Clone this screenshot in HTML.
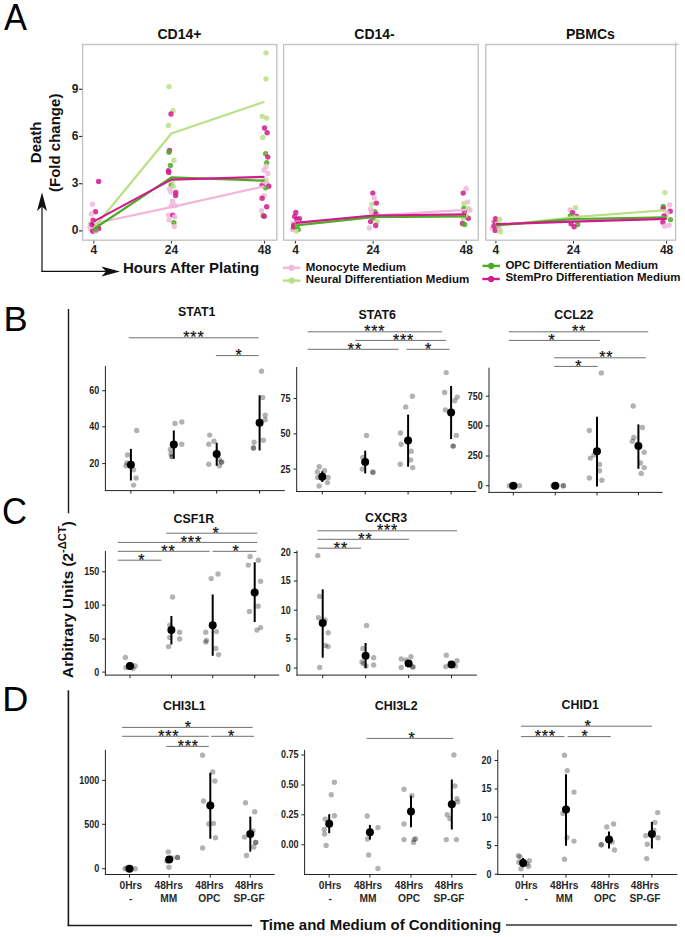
<!DOCTYPE html>
<html><head><meta charset="utf-8"><style>
html,body{margin:0;padding:0;background:#fff;overflow:hidden}
svg{display:block}
text{font-family:"Liberation Sans",sans-serif}
</style></head><body>
<svg width="685" height="937" viewBox="0 0 685 937">
<rect width="685" height="937" fill="#fff"/>
<text transform="translate(4.1,30.2) scale(0.93,1)" font-size="37" fill="#000">A</text>
<text transform="translate(3.5,330.9) scale(1.02,1)" font-size="35.5" fill="#000">B</text>
<text transform="translate(2.0,524.2) scale(0.96,1)" font-size="36" fill="#000">C</text>
<text transform="translate(2.2,710.7) scale(1.02,1)" font-size="35.5" fill="#000">D</text>
<rect x="82.6" y="44.5" width="194.2" height="195.7" fill="none" stroke="#c4c4c4" stroke-width="1.4"/>
<text x="179.4" y="38.6" font-size="14" font-weight="bold" text-anchor="middle" fill="#111" >CD14+</text>
<line x1="93.8" y1="240.9" x2="93.8" y2="243.5" stroke="#333" stroke-width="1" />
<text x="93.8" y="254.4" font-size="12" font-weight="bold" text-anchor="middle" fill="#222" >4</text>
<line x1="171.4" y1="240.9" x2="171.4" y2="243.5" stroke="#333" stroke-width="1" />
<text x="171.4" y="254.4" font-size="12" font-weight="bold" text-anchor="middle" fill="#222" >24</text>
<line x1="264.5" y1="240.9" x2="264.5" y2="243.5" stroke="#333" stroke-width="1" />
<text x="264.5" y="254.4" font-size="12" font-weight="bold" text-anchor="middle" fill="#222" >48</text>
<rect x="283.6" y="44.5" width="194.7" height="195.7" fill="none" stroke="#c4c4c4" stroke-width="1.4"/>
<text x="374.5" y="38.6" font-size="14" font-weight="bold" text-anchor="middle" fill="#111" >CD14-</text>
<line x1="295.5" y1="240.9" x2="295.5" y2="243.5" stroke="#333" stroke-width="1" />
<text x="295.5" y="254.4" font-size="12" font-weight="bold" text-anchor="middle" fill="#222" >4</text>
<line x1="373.1" y1="240.9" x2="373.1" y2="243.5" stroke="#333" stroke-width="1" />
<text x="373.1" y="254.4" font-size="12" font-weight="bold" text-anchor="middle" fill="#222" >24</text>
<line x1="466.2" y1="240.9" x2="466.2" y2="243.5" stroke="#333" stroke-width="1" />
<text x="466.2" y="254.4" font-size="12" font-weight="bold" text-anchor="middle" fill="#222" >48</text>
<rect x="485.8" y="44.5" width="189.8" height="195.7" fill="none" stroke="#c4c4c4" stroke-width="1.4"/>
<text x="590.4" y="38.6" font-size="14" font-weight="bold" text-anchor="middle" fill="#111" >PBMCs</text>
<line x1="495.9" y1="240.9" x2="495.9" y2="243.5" stroke="#333" stroke-width="1" />
<text x="495.9" y="254.4" font-size="12" font-weight="bold" text-anchor="middle" fill="#222" >4</text>
<line x1="573.5" y1="240.9" x2="573.5" y2="243.5" stroke="#333" stroke-width="1" />
<text x="573.5" y="254.4" font-size="12" font-weight="bold" text-anchor="middle" fill="#222" >24</text>
<line x1="666.6" y1="240.9" x2="666.6" y2="243.5" stroke="#333" stroke-width="1" />
<text x="666.6" y="254.4" font-size="12" font-weight="bold" text-anchor="middle" fill="#222" >48</text>
<line x1="675.6" y1="42.4" x2="675.6" y2="44.5" stroke="#c4c4c4" stroke-width="1.2" />
<line x1="675.6" y1="44.5" x2="679.2" y2="44.5" stroke="#c4c4c4" stroke-width="1.2" />
<line x1="79.1" y1="230.9" x2="82.3" y2="230.9" stroke="#333" stroke-width="1.2" />
<text x="78.4" y="234.3" font-size="12" font-weight="bold" text-anchor="end" fill="#222" >0</text>
<line x1="79.1" y1="183.7" x2="82.3" y2="183.7" stroke="#333" stroke-width="1.2" />
<text x="78.4" y="187.1" font-size="12" font-weight="bold" text-anchor="end" fill="#222" >3</text>
<line x1="79.1" y1="136.5" x2="82.3" y2="136.5" stroke="#333" stroke-width="1.2" />
<text x="78.4" y="139.9" font-size="12" font-weight="bold" text-anchor="end" fill="#222" >6</text>
<line x1="79.1" y1="89.3" x2="82.3" y2="89.3" stroke="#333" stroke-width="1.2" />
<text x="78.4" y="92.7" font-size="12" font-weight="bold" text-anchor="end" fill="#222" >9</text>
<circle cx="98.6" cy="181.4" r="2.7" fill="#d01c8b" fill-opacity="0.85"/>
<circle cx="92.4" cy="204.2" r="2.7" fill="#f1b6da" fill-opacity="0.85"/>
<circle cx="95.5" cy="211.7" r="2.7" fill="#d01c8b" fill-opacity="0.85"/>
<circle cx="91.3" cy="213.9" r="2.7" fill="#f1b6da" fill-opacity="0.85"/>
<circle cx="93.1" cy="220.1" r="2.7" fill="#d01c8b" fill-opacity="0.85"/>
<circle cx="90.6" cy="224.0" r="2.7" fill="#b8e186" fill-opacity="0.85"/>
<circle cx="92.0" cy="224.7" r="2.7" fill="#d01c8b" fill-opacity="0.85"/>
<circle cx="90.0" cy="226.7" r="2.7" fill="#f1b6da" fill-opacity="0.85"/>
<circle cx="97.9" cy="226.0" r="2.7" fill="#d01c8b" fill-opacity="0.85"/>
<circle cx="90.6" cy="229.2" r="2.7" fill="#f1b6da" fill-opacity="0.85"/>
<circle cx="98.6" cy="228.8" r="2.7" fill="#d01c8b" fill-opacity="0.85"/>
<circle cx="92.7" cy="231.3" r="2.7" fill="#d01c8b" fill-opacity="0.85"/>
<circle cx="96.0" cy="231.0" r="2.7" fill="#f1b6da" fill-opacity="0.85"/>
<circle cx="92.3" cy="224.6" r="2.7" fill="#d01c8b" fill-opacity="0.85"/>
<circle cx="95.5" cy="229.9" r="2.7" fill="#4dac26" fill-opacity="0.85"/>
<circle cx="169.0" cy="86.6" r="2.7" fill="#b8e186" fill-opacity="0.85"/>
<circle cx="173.0" cy="110.7" r="2.7" fill="#b8e186" fill-opacity="0.85"/>
<circle cx="171.0" cy="114.0" r="2.7" fill="#d01c8b" fill-opacity="0.85"/>
<circle cx="168.4" cy="125.4" r="2.7" fill="#b8e186" fill-opacity="0.85"/>
<circle cx="169.5" cy="150.5" r="2.7" fill="#d01c8b" fill-opacity="0.85"/>
<circle cx="169.0" cy="152.3" r="2.7" fill="#4dac26" fill-opacity="0.85"/>
<circle cx="173.9" cy="160.2" r="2.7" fill="#b8e186" fill-opacity="0.85"/>
<circle cx="170.4" cy="165.4" r="2.7" fill="#4dac26" fill-opacity="0.85"/>
<circle cx="168.4" cy="170.7" r="2.7" fill="#d01c8b" fill-opacity="0.85"/>
<circle cx="168.8" cy="172.4" r="2.7" fill="#d01c8b" fill-opacity="0.85"/>
<circle cx="171.2" cy="184.9" r="2.7" fill="#4dac26" fill-opacity="0.85"/>
<circle cx="173.2" cy="186.2" r="2.7" fill="#b8e186" fill-opacity="0.85"/>
<circle cx="171.0" cy="192.1" r="2.7" fill="#f1b6da" fill-opacity="0.85"/>
<circle cx="175.8" cy="192.5" r="2.7" fill="#d01c8b" fill-opacity="0.85"/>
<circle cx="175.6" cy="195.6" r="2.7" fill="#d01c8b" fill-opacity="0.85"/>
<circle cx="172.5" cy="201.3" r="2.7" fill="#f1b6da" fill-opacity="0.85"/>
<circle cx="171.2" cy="205.7" r="2.7" fill="#f1b6da" fill-opacity="0.85"/>
<circle cx="175.2" cy="205.7" r="2.7" fill="#f1b6da" fill-opacity="0.85"/>
<circle cx="168.6" cy="215.1" r="2.7" fill="#f1b6da" fill-opacity="0.85"/>
<circle cx="172.8" cy="215.1" r="2.7" fill="#d01c8b" fill-opacity="0.85"/>
<circle cx="174.7" cy="216.8" r="2.7" fill="#f1b6da" fill-opacity="0.85"/>
<circle cx="169.0" cy="219.9" r="2.7" fill="#f1b6da" fill-opacity="0.85"/>
<circle cx="173.9" cy="222.8" r="2.7" fill="#4dac26" fill-opacity="0.85"/>
<circle cx="174.3" cy="226.5" r="2.7" fill="#f1b6da" fill-opacity="0.85"/>
<circle cx="169.5" cy="189.0" r="2.7" fill="#f1b6da" fill-opacity="0.85"/>
<circle cx="172.0" cy="181.0" r="2.7" fill="#b8e186" fill-opacity="0.85"/>
<circle cx="266.0" cy="52.9" r="2.7" fill="#b8e186" fill-opacity="0.85"/>
<circle cx="266.0" cy="79.0" r="2.7" fill="#b8e186" fill-opacity="0.85"/>
<circle cx="262.3" cy="116.2" r="2.7" fill="#b8e186" fill-opacity="0.85"/>
<circle cx="266.7" cy="118.1" r="2.7" fill="#b8e186" fill-opacity="0.85"/>
<circle cx="264.5" cy="128.0" r="2.7" fill="#d01c8b" fill-opacity="0.85"/>
<circle cx="267.1" cy="132.8" r="2.7" fill="#d01c8b" fill-opacity="0.85"/>
<circle cx="262.7" cy="137.4" r="2.7" fill="#b8e186" fill-opacity="0.85"/>
<circle cx="265.6" cy="153.8" r="2.7" fill="#4dac26" fill-opacity="0.85"/>
<circle cx="267.8" cy="157.1" r="2.7" fill="#d01c8b" fill-opacity="0.85"/>
<circle cx="266.7" cy="162.6" r="2.7" fill="#4dac26" fill-opacity="0.85"/>
<circle cx="266.0" cy="166.5" r="2.7" fill="#f1b6da" fill-opacity="0.85"/>
<circle cx="267.8" cy="173.5" r="2.7" fill="#f1b6da" fill-opacity="0.85"/>
<circle cx="266.0" cy="180.1" r="2.7" fill="#b8e186" fill-opacity="0.85"/>
<circle cx="267.1" cy="183.4" r="2.7" fill="#f1b6da" fill-opacity="0.85"/>
<circle cx="262.1" cy="185.1" r="2.7" fill="#d01c8b" fill-opacity="0.85"/>
<circle cx="268.8" cy="186.2" r="2.7" fill="#d01c8b" fill-opacity="0.85"/>
<circle cx="265.6" cy="187.7" r="2.7" fill="#4dac26" fill-opacity="0.85"/>
<circle cx="264.2" cy="195.8" r="2.7" fill="#f1b6da" fill-opacity="0.85"/>
<circle cx="262.1" cy="198.2" r="2.7" fill="#d01c8b" fill-opacity="0.85"/>
<circle cx="266.7" cy="206.8" r="2.7" fill="#d01c8b" fill-opacity="0.85"/>
<circle cx="261.6" cy="210.7" r="2.7" fill="#f1b6da" fill-opacity="0.85"/>
<circle cx="263.2" cy="215.7" r="2.7" fill="#4dac26" fill-opacity="0.85"/>
<circle cx="264.2" cy="216.2" r="2.7" fill="#d01c8b" fill-opacity="0.85"/>
<circle cx="264.0" cy="170.0" r="2.7" fill="#f1b6da" fill-opacity="0.85"/>
<circle cx="263.0" cy="181.0" r="2.7" fill="#f1b6da" fill-opacity="0.85"/>
<circle cx="295.8" cy="212.4" r="2.7" fill="#d01c8b" fill-opacity="0.85"/>
<circle cx="294.7" cy="216.5" r="2.7" fill="#d01c8b" fill-opacity="0.85"/>
<circle cx="299.4" cy="218.7" r="2.7" fill="#d01c8b" fill-opacity="0.85"/>
<circle cx="296.9" cy="219.4" r="2.7" fill="#d01c8b" fill-opacity="0.85"/>
<circle cx="292.9" cy="223.1" r="2.7" fill="#f1b6da" fill-opacity="0.85"/>
<circle cx="294.0" cy="225.3" r="2.7" fill="#d01c8b" fill-opacity="0.85"/>
<circle cx="292.5" cy="229.6" r="2.7" fill="#f1b6da" fill-opacity="0.85"/>
<circle cx="298.3" cy="229.6" r="2.7" fill="#4dac26" fill-opacity="0.85"/>
<circle cx="296.1" cy="231.1" r="2.7" fill="#b8e186" fill-opacity="0.85"/>
<circle cx="293.5" cy="227.0" r="2.7" fill="#d01c8b" fill-opacity="0.85"/>
<circle cx="298.0" cy="223.0" r="2.7" fill="#f1b6da" fill-opacity="0.85"/>
<circle cx="297.0" cy="226.0" r="2.7" fill="#4dac26" fill-opacity="0.85"/>
<circle cx="372.8" cy="193.1" r="2.7" fill="#d01c8b" fill-opacity="0.85"/>
<circle cx="374.2" cy="197.8" r="2.7" fill="#f1b6da" fill-opacity="0.85"/>
<circle cx="371.8" cy="204.1" r="2.7" fill="#b8e186" fill-opacity="0.85"/>
<circle cx="376.4" cy="203.1" r="2.7" fill="#d01c8b" fill-opacity="0.85"/>
<circle cx="370.6" cy="209.2" r="2.7" fill="#f1b6da" fill-opacity="0.85"/>
<circle cx="374.7" cy="211.8" r="2.7" fill="#4dac26" fill-opacity="0.85"/>
<circle cx="371.5" cy="212.0" r="2.7" fill="#f1b6da" fill-opacity="0.85"/>
<circle cx="370.6" cy="221.6" r="2.7" fill="#d01c8b" fill-opacity="0.85"/>
<circle cx="377.2" cy="221.6" r="2.7" fill="#b8e186" fill-opacity="0.85"/>
<circle cx="375.7" cy="225.5" r="2.7" fill="#d01c8b" fill-opacity="0.85"/>
<circle cx="369.4" cy="227.9" r="2.7" fill="#f1b6da" fill-opacity="0.85"/>
<circle cx="373.0" cy="218.0" r="2.7" fill="#4dac26" fill-opacity="0.85"/>
<circle cx="376.0" cy="214.0" r="2.7" fill="#d01c8b" fill-opacity="0.85"/>
<circle cx="466.1" cy="188.5" r="2.7" fill="#f1b6da" fill-opacity="0.85"/>
<circle cx="463.2" cy="193.1" r="2.7" fill="#d01c8b" fill-opacity="0.85"/>
<circle cx="467.6" cy="201.9" r="2.7" fill="#f1b6da" fill-opacity="0.85"/>
<circle cx="463.9" cy="203.4" r="2.7" fill="#b8e186" fill-opacity="0.85"/>
<circle cx="463.9" cy="208.5" r="2.7" fill="#4dac26" fill-opacity="0.85"/>
<circle cx="468.0" cy="208.5" r="2.7" fill="#b8e186" fill-opacity="0.85"/>
<circle cx="464.4" cy="212.1" r="2.7" fill="#d01c8b" fill-opacity="0.85"/>
<circle cx="470.0" cy="210.0" r="2.7" fill="#f1b6da" fill-opacity="0.85"/>
<circle cx="463.2" cy="218.2" r="2.7" fill="#b8e186" fill-opacity="0.85"/>
<circle cx="468.3" cy="218.2" r="2.7" fill="#d01c8b" fill-opacity="0.85"/>
<circle cx="462.5" cy="223.5" r="2.7" fill="#d01c8b" fill-opacity="0.85"/>
<circle cx="464.7" cy="224.5" r="2.7" fill="#4dac26" fill-opacity="0.85"/>
<circle cx="466.0" cy="215.0" r="2.7" fill="#b8e186" fill-opacity="0.85"/>
<circle cx="495.5" cy="218.7" r="2.7" fill="#d01c8b" fill-opacity="0.85"/>
<circle cx="493.5" cy="221.6" r="2.7" fill="#f1b6da" fill-opacity="0.85"/>
<circle cx="495.2" cy="221.6" r="2.7" fill="#d01c8b" fill-opacity="0.85"/>
<circle cx="499.6" cy="219.4" r="2.7" fill="#b8e186" fill-opacity="0.85"/>
<circle cx="498.1" cy="225.3" r="2.7" fill="#4dac26" fill-opacity="0.85"/>
<circle cx="492.3" cy="228.2" r="2.7" fill="#f1b6da" fill-opacity="0.85"/>
<circle cx="495.2" cy="230.4" r="2.7" fill="#d01c8b" fill-opacity="0.85"/>
<circle cx="499.6" cy="229.6" r="2.7" fill="#f1b6da" fill-opacity="0.85"/>
<circle cx="500.3" cy="231.8" r="2.7" fill="#b8e186" fill-opacity="0.85"/>
<circle cx="497.0" cy="224.0" r="2.7" fill="#b8e186" fill-opacity="0.85"/>
<circle cx="494.0" cy="226.0" r="2.7" fill="#d01c8b" fill-opacity="0.85"/>
<circle cx="575.5" cy="207.7" r="2.7" fill="#b8e186" fill-opacity="0.85"/>
<circle cx="570.1" cy="209.9" r="2.7" fill="#f1b6da" fill-opacity="0.85"/>
<circle cx="572.6" cy="212.8" r="2.7" fill="#d01c8b" fill-opacity="0.85"/>
<circle cx="570.4" cy="215.8" r="2.7" fill="#4dac26" fill-opacity="0.85"/>
<circle cx="576.7" cy="216.5" r="2.7" fill="#d01c8b" fill-opacity="0.85"/>
<circle cx="575.0" cy="218.0" r="2.7" fill="#f1b6da" fill-opacity="0.85"/>
<circle cx="571.1" cy="223.8" r="2.7" fill="#d01c8b" fill-opacity="0.85"/>
<circle cx="577.7" cy="224.5" r="2.7" fill="#4dac26" fill-opacity="0.85"/>
<circle cx="574.1" cy="226.7" r="2.7" fill="#d01c8b" fill-opacity="0.85"/>
<circle cx="573.0" cy="220.0" r="2.7" fill="#b8e186" fill-opacity="0.85"/>
<circle cx="665.0" cy="192.6" r="2.7" fill="#b8e186" fill-opacity="0.85"/>
<circle cx="663.2" cy="206.5" r="2.7" fill="#4dac26" fill-opacity="0.85"/>
<circle cx="663.2" cy="208.7" r="2.7" fill="#d01c8b" fill-opacity="0.85"/>
<circle cx="669.8" cy="205.0" r="2.7" fill="#f1b6da" fill-opacity="0.85"/>
<circle cx="670.2" cy="211.3" r="2.7" fill="#d01c8b" fill-opacity="0.85"/>
<circle cx="667.0" cy="213.0" r="2.7" fill="#f1b6da" fill-opacity="0.85"/>
<circle cx="670.5" cy="219.6" r="2.7" fill="#4dac26" fill-opacity="0.85"/>
<circle cx="662.9" cy="222.3" r="2.7" fill="#d01c8b" fill-opacity="0.85"/>
<circle cx="664.7" cy="226.2" r="2.7" fill="#f1b6da" fill-opacity="0.85"/>
<circle cx="669.1" cy="225.2" r="2.7" fill="#f1b6da" fill-opacity="0.85"/>
<circle cx="666.0" cy="217.0" r="2.7" fill="#b8e186" fill-opacity="0.85"/>
<circle cx="664.0" cy="216.0" r="2.7" fill="#d01c8b" fill-opacity="0.85"/>
<polyline points="93.8,223.5 171.4,207.2 264.5,186.2" fill="none" stroke="#f1b6da" stroke-width="2.2" stroke-linejoin="round"/>
<polyline points="93.8,228 171.4,133.5 264.5,101.7" fill="none" stroke="#b8e186" stroke-width="2.2" stroke-linejoin="round"/>
<polyline points="93.8,229 171.4,177.4 264.5,180.7" fill="none" stroke="#4dac26" stroke-width="2.2" stroke-linejoin="round"/>
<polyline points="93.8,221.4 171.4,179.6 264.5,176.8" fill="none" stroke="#d01c8b" stroke-width="2.2" stroke-linejoin="round"/>
<polyline points="295.5,223.5 373.1,215.5 466.2,209.9" fill="none" stroke="#f1b6da" stroke-width="2.2" stroke-linejoin="round"/>
<polyline points="295.5,225.5 373.1,216.5 466.2,215.8" fill="none" stroke="#b8e186" stroke-width="2.2" stroke-linejoin="round"/>
<polyline points="295.5,225.5 373.1,217.2 466.2,216.5" fill="none" stroke="#4dac26" stroke-width="2.2" stroke-linejoin="round"/>
<polyline points="295.5,222.8 373.1,215.5 466.2,214.3" fill="none" stroke="#d01c8b" stroke-width="2.2" stroke-linejoin="round"/>
<polyline points="495.9,224.8 573.5,219.5 666.6,217.5" fill="none" stroke="#f1b6da" stroke-width="2.2" stroke-linejoin="round"/>
<polyline points="495.9,226 573.5,217.2 666.6,210.1" fill="none" stroke="#b8e186" stroke-width="2.2" stroke-linejoin="round"/>
<polyline points="495.9,225.3 573.5,219 666.6,217.4" fill="none" stroke="#4dac26" stroke-width="2.2" stroke-linejoin="round"/>
<polyline points="495.9,224.2 573.5,221.6 666.6,218.9" fill="none" stroke="#d01c8b" stroke-width="2.2" stroke-linejoin="round"/>
<line x1="42.0" y1="272.0" x2="42.0" y2="205.0" stroke="#111" stroke-width="1.2" />
<path d="M42,192.3 L37.0,211 L42,206.5 L47,211 Z" fill="#111" stroke="none" stroke-width="1" />
<line x1="41.4" y1="271.4" x2="106.0" y2="271.4" stroke="#111" stroke-width="1.2" />
<path d="M120,271.4 L101.5,266.4 L106,271.4 L101.5,276.4 Z" fill="#111" stroke="none" stroke-width="1" />
<text x="123.0" y="273.3" font-size="15" font-weight="bold" text-anchor="start" fill="#111" >Hours After Plating</text>
<text transform="translate(40.8,142.3) rotate(-90)" font-size="15" font-weight="bold" text-anchor="middle" fill="#111">Death</text>
<text transform="translate(60.0,142.8) rotate(-90)" font-size="15" font-weight="bold" text-anchor="middle" fill="#111">(Fold change)</text>
<line x1="282.9" y1="267.8" x2="300.4" y2="267.8" stroke="#f1b6da" stroke-width="2.4" />
<circle cx="291.6" cy="267.8" r="3.1" fill="#f1b6da"/>
<text x="305.7" y="270.9" font-size="11.5" font-weight="bold" text-anchor="start" fill="#111" >Monocyte Medium</text>
<line x1="282.9" y1="280.6" x2="300.4" y2="280.6" stroke="#b8e186" stroke-width="2.4" />
<circle cx="291.6" cy="280.6" r="3.1" fill="#b8e186"/>
<text x="305.7" y="283.4" font-size="11.5" font-weight="bold" text-anchor="start" fill="#111" >Neural Differentiation Medium</text>
<line x1="482.5" y1="265.9" x2="500.0" y2="265.9" stroke="#4dac26" stroke-width="2.4" />
<circle cx="491.2" cy="265.9" r="3.1" fill="#4dac26"/>
<text x="505.4" y="268.5" font-size="11.5" font-weight="bold" text-anchor="start" fill="#111" >OPC Differentiation Medium</text>
<line x1="482.3" y1="279.0" x2="499.8" y2="279.0" stroke="#d01c8b" stroke-width="2.4" />
<circle cx="491.1" cy="279.0" r="3.1" fill="#d01c8b"/>
<text x="505.4" y="281.4" font-size="11.5" font-weight="bold" text-anchor="start" fill="#111" >StemPro Differentiation Medium</text>
<line x1="105.4" y1="366.1" x2="105.4" y2="491.1" stroke="#222" stroke-width="1" />
<line x1="104.9" y1="490.6" x2="284.8" y2="490.6" stroke="#222" stroke-width="1" />
<line x1="102.2" y1="390.7" x2="105.4" y2="390.7" stroke="#222" stroke-width="1" />
<text transform="translate(99.2,394.1) scale(0.9,1)" font-size="10" font-weight="bold" text-anchor="end" fill="#1e1e1e">60</text>
<line x1="102.2" y1="426.8" x2="105.4" y2="426.8" stroke="#222" stroke-width="1" />
<text transform="translate(99.2,430.2) scale(0.9,1)" font-size="10" font-weight="bold" text-anchor="end" fill="#1e1e1e">40</text>
<line x1="102.2" y1="463.6" x2="105.4" y2="463.6" stroke="#222" stroke-width="1" />
<text transform="translate(99.2,467.0) scale(0.9,1)" font-size="10" font-weight="bold" text-anchor="end" fill="#1e1e1e">20</text>
<line x1="130.9" y1="490.6" x2="130.9" y2="493.6" stroke="#222" stroke-width="1" />
<line x1="173.8" y1="490.6" x2="173.8" y2="493.6" stroke="#222" stroke-width="1" />
<line x1="216.7" y1="490.6" x2="216.7" y2="493.6" stroke="#222" stroke-width="1" />
<line x1="259.6" y1="490.6" x2="259.6" y2="493.6" stroke="#222" stroke-width="1" />
<circle cx="136.7" cy="430.5" r="2.7" fill="#000" fill-opacity="0.3"/>
<circle cx="127.5" cy="455.0" r="2.7" fill="#000" fill-opacity="0.3"/>
<circle cx="126.0" cy="465.8" r="2.7" fill="#000" fill-opacity="0.3"/>
<circle cx="127.0" cy="463.0" r="2.7" fill="#000" fill-opacity="0.3"/>
<circle cx="133.6" cy="469.7" r="2.7" fill="#000" fill-opacity="0.3"/>
<circle cx="136.1" cy="478.0" r="2.7" fill="#000" fill-opacity="0.3"/>
<circle cx="133.6" cy="485.1" r="2.7" fill="#000" fill-opacity="0.3"/>
<circle cx="175.0" cy="423.5" r="2.7" fill="#000" fill-opacity="0.3"/>
<circle cx="181.8" cy="421.9" r="2.7" fill="#000" fill-opacity="0.3"/>
<circle cx="170.4" cy="449.5" r="2.7" fill="#000" fill-opacity="0.3"/>
<circle cx="172.0" cy="456.6" r="2.7" fill="#000" fill-opacity="0.3"/>
<circle cx="172.0" cy="456.6" r="2.7" fill="#000" fill-opacity="0.3"/>
<circle cx="181.8" cy="444.3" r="2.7" fill="#000" fill-opacity="0.3"/>
<circle cx="171.0" cy="454.0" r="2.7" fill="#000" fill-opacity="0.3"/>
<circle cx="209.7" cy="435.1" r="2.7" fill="#000" fill-opacity="0.3"/>
<circle cx="214.0" cy="441.2" r="2.7" fill="#000" fill-opacity="0.3"/>
<circle cx="208.8" cy="444.3" r="2.7" fill="#000" fill-opacity="0.3"/>
<circle cx="208.8" cy="464.2" r="2.7" fill="#000" fill-opacity="0.3"/>
<circle cx="219.5" cy="459.6" r="2.7" fill="#000" fill-opacity="0.3"/>
<circle cx="221.6" cy="462.1" r="2.7" fill="#000" fill-opacity="0.3"/>
<circle cx="221.6" cy="462.1" r="2.7" fill="#000" fill-opacity="0.3"/>
<circle cx="219.5" cy="465.8" r="2.7" fill="#000" fill-opacity="0.3"/>
<circle cx="261.5" cy="371.3" r="2.7" fill="#000" fill-opacity="0.3"/>
<circle cx="262.7" cy="397.4" r="2.7" fill="#000" fill-opacity="0.3"/>
<circle cx="265.2" cy="415.2" r="2.7" fill="#000" fill-opacity="0.3"/>
<circle cx="265.2" cy="419.8" r="2.7" fill="#000" fill-opacity="0.3"/>
<circle cx="254.1" cy="442.2" r="2.7" fill="#000" fill-opacity="0.3"/>
<circle cx="253.5" cy="448.0" r="2.7" fill="#000" fill-opacity="0.3"/>
<circle cx="253.5" cy="448.0" r="2.7" fill="#000" fill-opacity="0.3"/>
<circle cx="263.3" cy="440.3" r="2.7" fill="#000" fill-opacity="0.3"/>
<line x1="130.9" y1="448.9" x2="130.9" y2="480.5" stroke="#000" stroke-width="2.0" />
<circle cx="130.9" cy="464.8" r="4.0" fill="#000"/>
<line x1="173.8" y1="430.5" x2="173.8" y2="458.7" stroke="#000" stroke-width="2.0" />
<circle cx="173.8" cy="444.6" r="4.0" fill="#000"/>
<line x1="216.7" y1="442.8" x2="216.7" y2="465.8" stroke="#000" stroke-width="2.0" />
<circle cx="216.7" cy="454.1" r="4.0" fill="#000"/>
<line x1="259.6" y1="395.3" x2="259.6" y2="450.4" stroke="#000" stroke-width="2.0" />
<circle cx="259.6" cy="422.8" r="4.0" fill="#000"/>
<text x="196.8" y="316.1" font-size="12.4" font-weight="bold" text-anchor="middle" fill="#111" >STAT1</text>
<line x1="128.7" y1="337.8" x2="258.7" y2="337.8" stroke="#6e6e6e" stroke-width="1" />
<text x="193.9" y="343.3" font-size="16" text-anchor="middle" fill="#111" letter-spacing="0.8" stroke="#111" stroke-width="0.25">***</text>
<line x1="215.9" y1="355.6" x2="258.7" y2="355.6" stroke="#6e6e6e" stroke-width="1" />
<text x="239.0" y="361.1" font-size="16" text-anchor="middle" fill="#111" letter-spacing="0.8" stroke="#111" stroke-width="0.25">*</text>
<line x1="296.7" y1="367.0" x2="296.7" y2="492.0" stroke="#222" stroke-width="1" />
<line x1="296.2" y1="491.5" x2="476.2" y2="491.5" stroke="#222" stroke-width="1" />
<line x1="293.5" y1="398.6" x2="296.7" y2="398.6" stroke="#222" stroke-width="1" />
<text transform="translate(290.5,402.0) scale(0.9,1)" font-size="10" font-weight="bold" text-anchor="end" fill="#1e1e1e">75</text>
<line x1="293.5" y1="433.9" x2="296.7" y2="433.9" stroke="#222" stroke-width="1" />
<text transform="translate(290.5,437.3) scale(0.9,1)" font-size="10" font-weight="bold" text-anchor="end" fill="#1e1e1e">50</text>
<line x1="293.5" y1="469.1" x2="296.7" y2="469.1" stroke="#222" stroke-width="1" />
<text transform="translate(290.5,472.5) scale(0.9,1)" font-size="10" font-weight="bold" text-anchor="end" fill="#1e1e1e">25</text>
<line x1="322.3" y1="491.5" x2="322.3" y2="494.5" stroke="#222" stroke-width="1" />
<line x1="365.2" y1="491.5" x2="365.2" y2="494.5" stroke="#222" stroke-width="1" />
<line x1="408.1" y1="491.5" x2="408.1" y2="494.5" stroke="#222" stroke-width="1" />
<line x1="451.1" y1="491.5" x2="451.1" y2="494.5" stroke="#222" stroke-width="1" />
<circle cx="319.2" cy="466.7" r="2.7" fill="#000" fill-opacity="0.3"/>
<circle cx="324.5" cy="470.7" r="2.7" fill="#000" fill-opacity="0.3"/>
<circle cx="317.4" cy="471.9" r="2.7" fill="#000" fill-opacity="0.3"/>
<circle cx="328.1" cy="477.4" r="2.7" fill="#000" fill-opacity="0.3"/>
<circle cx="327.5" cy="482.6" r="2.7" fill="#000" fill-opacity="0.3"/>
<circle cx="319.2" cy="486.0" r="2.7" fill="#000" fill-opacity="0.3"/>
<circle cx="317.7" cy="477.4" r="2.7" fill="#000" fill-opacity="0.3"/>
<circle cx="366.5" cy="435.4" r="2.7" fill="#000" fill-opacity="0.3"/>
<circle cx="362.8" cy="457.5" r="2.7" fill="#000" fill-opacity="0.3"/>
<circle cx="362.2" cy="469.1" r="2.7" fill="#000" fill-opacity="0.3"/>
<circle cx="372.9" cy="472.2" r="2.7" fill="#000" fill-opacity="0.3"/>
<circle cx="372.9" cy="472.2" r="2.7" fill="#000" fill-opacity="0.3"/>
<circle cx="364.0" cy="462.0" r="2.7" fill="#000" fill-opacity="0.3"/>
<circle cx="412.4" cy="396.2" r="2.7" fill="#000" fill-opacity="0.3"/>
<circle cx="405.7" cy="406.9" r="2.7" fill="#000" fill-opacity="0.3"/>
<circle cx="400.5" cy="433.0" r="2.7" fill="#000" fill-opacity="0.3"/>
<circle cx="401.1" cy="444.3" r="2.7" fill="#000" fill-opacity="0.3"/>
<circle cx="411.2" cy="451.3" r="2.7" fill="#000" fill-opacity="0.3"/>
<circle cx="410.6" cy="459.9" r="2.7" fill="#000" fill-opacity="0.3"/>
<circle cx="400.2" cy="464.2" r="2.7" fill="#000" fill-opacity="0.3"/>
<circle cx="412.7" cy="467.6" r="2.7" fill="#000" fill-opacity="0.3"/>
<circle cx="446.2" cy="372.6" r="2.7" fill="#000" fill-opacity="0.3"/>
<circle cx="444.6" cy="392.5" r="2.7" fill="#000" fill-opacity="0.3"/>
<circle cx="457.2" cy="397.1" r="2.7" fill="#000" fill-opacity="0.3"/>
<circle cx="454.7" cy="400.8" r="2.7" fill="#000" fill-opacity="0.3"/>
<circle cx="445.5" cy="410.0" r="2.7" fill="#000" fill-opacity="0.3"/>
<circle cx="456.3" cy="435.4" r="2.7" fill="#000" fill-opacity="0.3"/>
<circle cx="453.2" cy="446.1" r="2.7" fill="#000" fill-opacity="0.3"/>
<circle cx="453.2" cy="446.1" r="2.7" fill="#000" fill-opacity="0.3"/>
<line x1="322.3" y1="471.3" x2="322.3" y2="482.0" stroke="#000" stroke-width="2.0" />
<circle cx="322.3" cy="476.8" r="4.0" fill="#000"/>
<line x1="365.2" y1="450.7" x2="365.2" y2="473.4" stroke="#000" stroke-width="2.0" />
<circle cx="365.2" cy="462.1" r="4.0" fill="#000"/>
<line x1="408.1" y1="414.6" x2="408.1" y2="466.7" stroke="#000" stroke-width="2.0" />
<circle cx="408.1" cy="440.6" r="4.0" fill="#000"/>
<line x1="451.1" y1="386.0" x2="451.1" y2="439.1" stroke="#000" stroke-width="2.0" />
<circle cx="451.1" cy="412.4" r="4.0" fill="#000"/>
<text x="377.3" y="319.4" font-size="12.4" font-weight="bold" text-anchor="middle" fill="#111" >STAT6</text>
<line x1="307.6" y1="331.8" x2="441.9" y2="331.8" stroke="#6e6e6e" stroke-width="1" />
<text x="374.8" y="337.3" font-size="16" text-anchor="middle" fill="#111" letter-spacing="0.8" stroke="#111" stroke-width="0.25">***</text>
<line x1="355.1" y1="340.4" x2="446.2" y2="340.4" stroke="#6e6e6e" stroke-width="1" />
<text x="403.6" y="345.9" font-size="16" text-anchor="middle" fill="#111" letter-spacing="0.8" stroke="#111" stroke-width="0.25">***</text>
<line x1="307.6" y1="349.3" x2="398.6" y2="349.3" stroke="#6e6e6e" stroke-width="1" />
<text x="354.9" y="354.8" font-size="16" text-anchor="middle" fill="#111" letter-spacing="0.8" stroke="#111" stroke-width="0.25">**</text>
<line x1="406.6" y1="349.3" x2="449.5" y2="349.3" stroke="#6e6e6e" stroke-width="1" />
<text x="428.5" y="354.8" font-size="16" text-anchor="middle" fill="#111" letter-spacing="0.8" stroke="#111" stroke-width="0.25">*</text>
<line x1="489.0" y1="367.7" x2="489.0" y2="492.9" stroke="#222" stroke-width="1" />
<line x1="488.5" y1="492.4" x2="662.6" y2="492.4" stroke="#222" stroke-width="1" />
<line x1="485.8" y1="396.2" x2="489.0" y2="396.2" stroke="#222" stroke-width="1" />
<text transform="translate(482.8,399.6) scale(0.9,1)" font-size="10" font-weight="bold" text-anchor="end" fill="#1e1e1e">750</text>
<line x1="485.8" y1="425.9" x2="489.0" y2="425.9" stroke="#222" stroke-width="1" />
<text transform="translate(482.8,429.3) scale(0.9,1)" font-size="10" font-weight="bold" text-anchor="end" fill="#1e1e1e">500</text>
<line x1="485.8" y1="456.0" x2="489.0" y2="456.0" stroke="#222" stroke-width="1" />
<text transform="translate(482.8,459.4) scale(0.9,1)" font-size="10" font-weight="bold" text-anchor="end" fill="#1e1e1e">250</text>
<line x1="485.8" y1="485.7" x2="489.0" y2="485.7" stroke="#222" stroke-width="1" />
<text transform="translate(482.8,489.1) scale(0.9,1)" font-size="10" font-weight="bold" text-anchor="end" fill="#1e1e1e">0</text>
<line x1="513.3" y1="492.4" x2="513.3" y2="495.4" stroke="#222" stroke-width="1" />
<line x1="555.3" y1="492.4" x2="555.3" y2="495.4" stroke="#222" stroke-width="1" />
<line x1="597.0" y1="492.4" x2="597.0" y2="495.4" stroke="#222" stroke-width="1" />
<line x1="638.4" y1="492.4" x2="638.4" y2="495.4" stroke="#222" stroke-width="1" />
<circle cx="509.3" cy="485.7" r="2.7" fill="#000" fill-opacity="0.3"/>
<circle cx="519.5" cy="485.7" r="2.7" fill="#000" fill-opacity="0.3"/>
<circle cx="512.0" cy="485.7" r="2.7" fill="#000" fill-opacity="0.3"/>
<circle cx="515.0" cy="485.7" r="2.7" fill="#000" fill-opacity="0.3"/>
<circle cx="563.3" cy="485.7" r="2.7" fill="#000" fill-opacity="0.3"/>
<circle cx="563.3" cy="485.7" r="2.7" fill="#000" fill-opacity="0.3"/>
<circle cx="553.0" cy="485.7" r="2.7" fill="#000" fill-opacity="0.3"/>
<circle cx="557.0" cy="485.7" r="2.7" fill="#000" fill-opacity="0.3"/>
<circle cx="601.3" cy="372.9" r="2.7" fill="#000" fill-opacity="0.3"/>
<circle cx="589.3" cy="430.5" r="2.7" fill="#000" fill-opacity="0.3"/>
<circle cx="590.3" cy="458.1" r="2.7" fill="#000" fill-opacity="0.3"/>
<circle cx="594.0" cy="455.0" r="2.7" fill="#000" fill-opacity="0.3"/>
<circle cx="599.5" cy="464.5" r="2.7" fill="#000" fill-opacity="0.3"/>
<circle cx="599.5" cy="470.7" r="2.7" fill="#000" fill-opacity="0.3"/>
<circle cx="589.3" cy="478.0" r="2.7" fill="#000" fill-opacity="0.3"/>
<circle cx="601.9" cy="480.2" r="2.7" fill="#000" fill-opacity="0.3"/>
<circle cx="633.2" cy="406.0" r="2.7" fill="#000" fill-opacity="0.3"/>
<circle cx="642.4" cy="427.4" r="2.7" fill="#000" fill-opacity="0.3"/>
<circle cx="633.8" cy="437.5" r="2.7" fill="#000" fill-opacity="0.3"/>
<circle cx="632.3" cy="441.2" r="2.7" fill="#000" fill-opacity="0.3"/>
<circle cx="644.2" cy="452.3" r="2.7" fill="#000" fill-opacity="0.3"/>
<circle cx="640.5" cy="463.0" r="2.7" fill="#000" fill-opacity="0.3"/>
<circle cx="644.2" cy="467.6" r="2.7" fill="#000" fill-opacity="0.3"/>
<circle cx="641.2" cy="473.4" r="2.7" fill="#000" fill-opacity="0.3"/>
<circle cx="513.3" cy="485.7" r="4.0" fill="#000"/>
<circle cx="555.3" cy="485.7" r="4.0" fill="#000"/>
<line x1="597.0" y1="416.7" x2="597.0" y2="486.6" stroke="#000" stroke-width="2.0" />
<circle cx="597.0" cy="451.3" r="4.0" fill="#000"/>
<line x1="638.4" y1="424.4" x2="638.4" y2="468.8" stroke="#000" stroke-width="2.0" />
<circle cx="638.4" cy="446.1" r="4.0" fill="#000"/>
<text x="573.9" y="319.4" font-size="12.4" font-weight="bold" text-anchor="middle" fill="#111" >CCL22</text>
<line x1="508.7" y1="331.8" x2="648.2" y2="331.8" stroke="#6e6e6e" stroke-width="1" />
<text x="579.0" y="337.3" font-size="16" text-anchor="middle" fill="#111" letter-spacing="0.8" stroke="#111" stroke-width="0.25">**</text>
<line x1="508.7" y1="340.4" x2="600.1" y2="340.4" stroke="#6e6e6e" stroke-width="1" />
<text x="552.0" y="345.9" font-size="16" text-anchor="middle" fill="#111" letter-spacing="0.8" stroke="#111" stroke-width="0.25">*</text>
<line x1="554.1" y1="357.8" x2="645.8" y2="357.8" stroke="#6e6e6e" stroke-width="1" />
<text x="606.3" y="363.3" font-size="16" text-anchor="middle" fill="#111" letter-spacing="0.8" stroke="#111" stroke-width="0.25">**</text>
<line x1="554.1" y1="366.4" x2="597.6" y2="366.4" stroke="#6e6e6e" stroke-width="1" />
<text x="578.7" y="371.9" font-size="16" text-anchor="middle" fill="#111" letter-spacing="0.8" stroke="#111" stroke-width="0.25">*</text>
<line x1="105.4" y1="551.0" x2="105.4" y2="675.6" stroke="#222" stroke-width="1" />
<line x1="104.9" y1="675.1" x2="279.2" y2="675.1" stroke="#222" stroke-width="1" />
<line x1="102.2" y1="571.8" x2="105.4" y2="571.8" stroke="#222" stroke-width="1" />
<text transform="translate(99.2,575.2) scale(0.9,1)" font-size="10" font-weight="bold" text-anchor="end" fill="#1e1e1e">150</text>
<line x1="102.2" y1="605.2" x2="105.4" y2="605.2" stroke="#222" stroke-width="1" />
<text transform="translate(99.2,608.6) scale(0.9,1)" font-size="10" font-weight="bold" text-anchor="end" fill="#1e1e1e">100</text>
<line x1="102.2" y1="639.0" x2="105.4" y2="639.0" stroke="#222" stroke-width="1" />
<text transform="translate(99.2,642.4) scale(0.9,1)" font-size="10" font-weight="bold" text-anchor="end" fill="#1e1e1e">50</text>
<line x1="102.2" y1="672.1" x2="105.4" y2="672.1" stroke="#222" stroke-width="1" />
<text transform="translate(99.2,675.5) scale(0.9,1)" font-size="10" font-weight="bold" text-anchor="end" fill="#1e1e1e">0</text>
<line x1="130.0" y1="675.1" x2="130.0" y2="678.1" stroke="#222" stroke-width="1" />
<line x1="171.4" y1="675.1" x2="171.4" y2="678.1" stroke="#222" stroke-width="1" />
<line x1="212.7" y1="675.1" x2="212.7" y2="678.1" stroke="#222" stroke-width="1" />
<line x1="254.7" y1="675.1" x2="254.7" y2="678.1" stroke="#222" stroke-width="1" />
<circle cx="125.4" cy="657.4" r="2.7" fill="#000" fill-opacity="0.3"/>
<circle cx="126.0" cy="667.5" r="2.7" fill="#000" fill-opacity="0.3"/>
<circle cx="135.2" cy="666.0" r="2.7" fill="#000" fill-opacity="0.3"/>
<circle cx="133.0" cy="668.5" r="2.7" fill="#000" fill-opacity="0.3"/>
<circle cx="129.0" cy="667.0" r="2.7" fill="#000" fill-opacity="0.3"/>
<circle cx="172.6" cy="597.0" r="2.7" fill="#000" fill-opacity="0.3"/>
<circle cx="169.8" cy="625.2" r="2.7" fill="#000" fill-opacity="0.3"/>
<circle cx="179.6" cy="632.2" r="2.7" fill="#000" fill-opacity="0.3"/>
<circle cx="169.8" cy="637.4" r="2.7" fill="#000" fill-opacity="0.3"/>
<circle cx="179.6" cy="639.0" r="2.7" fill="#000" fill-opacity="0.3"/>
<circle cx="168.6" cy="646.6" r="2.7" fill="#000" fill-opacity="0.3"/>
<circle cx="211.2" cy="578.6" r="2.7" fill="#000" fill-opacity="0.3"/>
<circle cx="218.0" cy="574.0" r="2.7" fill="#000" fill-opacity="0.3"/>
<circle cx="205.7" cy="632.2" r="2.7" fill="#000" fill-opacity="0.3"/>
<circle cx="216.4" cy="631.6" r="2.7" fill="#000" fill-opacity="0.3"/>
<circle cx="205.7" cy="642.0" r="2.7" fill="#000" fill-opacity="0.3"/>
<circle cx="206.5" cy="640.5" r="2.7" fill="#000" fill-opacity="0.3"/>
<circle cx="215.8" cy="648.5" r="2.7" fill="#000" fill-opacity="0.3"/>
<circle cx="218.6" cy="654.6" r="2.7" fill="#000" fill-opacity="0.3"/>
<circle cx="250.1" cy="556.5" r="2.7" fill="#000" fill-opacity="0.3"/>
<circle cx="258.4" cy="560.2" r="2.7" fill="#000" fill-opacity="0.3"/>
<circle cx="248.3" cy="565.1" r="2.7" fill="#000" fill-opacity="0.3"/>
<circle cx="260.6" cy="581.3" r="2.7" fill="#000" fill-opacity="0.3"/>
<circle cx="258.1" cy="606.2" r="2.7" fill="#000" fill-opacity="0.3"/>
<circle cx="249.5" cy="611.4" r="2.7" fill="#000" fill-opacity="0.3"/>
<circle cx="260.6" cy="627.6" r="2.7" fill="#000" fill-opacity="0.3"/>
<circle cx="256.9" cy="630.1" r="2.7" fill="#000" fill-opacity="0.3"/>
<line x1="130.0" y1="663.0" x2="130.0" y2="669.0" stroke="#000" stroke-width="2.0" />
<circle cx="130.0" cy="666.0" r="4.0" fill="#000"/>
<line x1="171.4" y1="616.0" x2="171.4" y2="644.5" stroke="#000" stroke-width="2.0" />
<circle cx="171.4" cy="630.1" r="4.0" fill="#000"/>
<line x1="212.7" y1="594.5" x2="212.7" y2="655.8" stroke="#000" stroke-width="2.0" />
<circle cx="212.7" cy="625.2" r="4.0" fill="#000"/>
<line x1="254.7" y1="562.3" x2="254.7" y2="622.1" stroke="#000" stroke-width="2.0" />
<circle cx="254.7" cy="592.4" r="4.0" fill="#000"/>
<text x="193.8" y="523.4" font-size="12.4" font-weight="bold" text-anchor="middle" fill="#111" >CSF1R</text>
<line x1="166.4" y1="533.2" x2="257.2" y2="533.2" stroke="#6e6e6e" stroke-width="1" />
<text x="215.9" y="538.7" font-size="16" text-anchor="middle" fill="#111" letter-spacing="0.8" stroke="#111" stroke-width="0.25">*</text>
<line x1="117.7" y1="542.4" x2="257.2" y2="542.4" stroke="#6e6e6e" stroke-width="1" />
<text x="191.4" y="547.9" font-size="16" text-anchor="middle" fill="#111" letter-spacing="0.8" stroke="#111" stroke-width="0.25">***</text>
<line x1="117.7" y1="551.3" x2="209.7" y2="551.3" stroke="#6e6e6e" stroke-width="1" />
<text x="168.4" y="556.8" font-size="16" text-anchor="middle" fill="#111" letter-spacing="0.8" stroke="#111" stroke-width="0.25">**</text>
<line x1="212.7" y1="551.3" x2="256.3" y2="551.3" stroke="#6e6e6e" stroke-width="1" />
<text x="236.1" y="556.8" font-size="16" text-anchor="middle" fill="#111" letter-spacing="0.8" stroke="#111" stroke-width="0.25">*</text>
<line x1="117.7" y1="560.2" x2="161.5" y2="560.2" stroke="#6e6e6e" stroke-width="1" />
<text x="141.7" y="565.7" font-size="16" text-anchor="middle" fill="#111" letter-spacing="0.8" stroke="#111" stroke-width="0.25">*</text>
<line x1="297.0" y1="550.4" x2="297.0" y2="675.6" stroke="#222" stroke-width="1" />
<line x1="296.5" y1="675.1" x2="476.9" y2="675.1" stroke="#222" stroke-width="1" />
<line x1="293.8" y1="552.5" x2="297.0" y2="552.5" stroke="#222" stroke-width="1" />
<text transform="translate(290.8,555.9) scale(0.9,1)" font-size="10" font-weight="bold" text-anchor="end" fill="#1e1e1e">20</text>
<line x1="293.8" y1="581.0" x2="297.0" y2="581.0" stroke="#222" stroke-width="1" />
<text transform="translate(290.8,584.4) scale(0.9,1)" font-size="10" font-weight="bold" text-anchor="end" fill="#1e1e1e">15</text>
<line x1="293.8" y1="610.2" x2="297.0" y2="610.2" stroke="#222" stroke-width="1" />
<text transform="translate(290.8,613.6) scale(0.9,1)" font-size="10" font-weight="bold" text-anchor="end" fill="#1e1e1e">10</text>
<line x1="293.8" y1="639.0" x2="297.0" y2="639.0" stroke="#222" stroke-width="1" />
<text transform="translate(290.8,642.4) scale(0.9,1)" font-size="10" font-weight="bold" text-anchor="end" fill="#1e1e1e">5</text>
<line x1="293.8" y1="668.1" x2="297.0" y2="668.1" stroke="#222" stroke-width="1" />
<text transform="translate(290.8,671.5) scale(0.9,1)" font-size="10" font-weight="bold" text-anchor="end" fill="#1e1e1e">0</text>
<line x1="322.7" y1="675.1" x2="322.7" y2="678.1" stroke="#222" stroke-width="1" />
<line x1="365.6" y1="675.1" x2="365.6" y2="678.1" stroke="#222" stroke-width="1" />
<line x1="408.6" y1="675.1" x2="408.6" y2="678.1" stroke="#222" stroke-width="1" />
<line x1="451.5" y1="675.1" x2="451.5" y2="678.1" stroke="#222" stroke-width="1" />
<circle cx="317.8" cy="555.6" r="2.7" fill="#000" fill-opacity="0.3"/>
<circle cx="319.7" cy="596.4" r="2.7" fill="#000" fill-opacity="0.3"/>
<circle cx="318.4" cy="617.8" r="2.7" fill="#000" fill-opacity="0.3"/>
<circle cx="325.0" cy="620.0" r="2.7" fill="#000" fill-opacity="0.3"/>
<circle cx="328.2" cy="632.8" r="2.7" fill="#000" fill-opacity="0.3"/>
<circle cx="325.2" cy="645.4" r="2.7" fill="#000" fill-opacity="0.3"/>
<circle cx="328.2" cy="646.6" r="2.7" fill="#000" fill-opacity="0.3"/>
<circle cx="319.7" cy="667.5" r="2.7" fill="#000" fill-opacity="0.3"/>
<circle cx="366.6" cy="625.5" r="2.7" fill="#000" fill-opacity="0.3"/>
<circle cx="362.9" cy="648.5" r="2.7" fill="#000" fill-opacity="0.3"/>
<circle cx="373.6" cy="657.7" r="2.7" fill="#000" fill-opacity="0.3"/>
<circle cx="362.0" cy="662.0" r="2.7" fill="#000" fill-opacity="0.3"/>
<circle cx="363.5" cy="663.5" r="2.7" fill="#000" fill-opacity="0.3"/>
<circle cx="373.6" cy="665.0" r="2.7" fill="#000" fill-opacity="0.3"/>
<circle cx="366.0" cy="666.0" r="2.7" fill="#000" fill-opacity="0.3"/>
<circle cx="401.2" cy="658.9" r="2.7" fill="#000" fill-opacity="0.3"/>
<circle cx="411.0" cy="656.7" r="2.7" fill="#000" fill-opacity="0.3"/>
<circle cx="406.0" cy="660.0" r="2.7" fill="#000" fill-opacity="0.3"/>
<circle cx="401.2" cy="667.5" r="2.7" fill="#000" fill-opacity="0.3"/>
<circle cx="412.9" cy="666.9" r="2.7" fill="#000" fill-opacity="0.3"/>
<circle cx="412.9" cy="666.9" r="2.7" fill="#000" fill-opacity="0.3"/>
<circle cx="446.3" cy="655.2" r="2.7" fill="#000" fill-opacity="0.3"/>
<circle cx="457.0" cy="660.7" r="2.7" fill="#000" fill-opacity="0.3"/>
<circle cx="445.7" cy="666.6" r="2.7" fill="#000" fill-opacity="0.3"/>
<circle cx="455.5" cy="666.0" r="2.7" fill="#000" fill-opacity="0.3"/>
<circle cx="453.0" cy="665.0" r="2.7" fill="#000" fill-opacity="0.3"/>
<line x1="322.7" y1="589.3" x2="322.7" y2="657.7" stroke="#000" stroke-width="2.0" />
<circle cx="322.7" cy="623.0" r="4.0" fill="#000"/>
<line x1="365.6" y1="643.0" x2="365.6" y2="668.1" stroke="#000" stroke-width="2.0" />
<circle cx="365.6" cy="655.8" r="4.0" fill="#000"/>
<circle cx="408.6" cy="663.5" r="4.0" fill="#000"/>
<circle cx="451.5" cy="664.4" r="4.0" fill="#000"/>
<text x="386.1" y="521.8" font-size="12.4" font-weight="bold" text-anchor="middle" fill="#111" >CXCR3</text>
<line x1="317.5" y1="530.8" x2="457.0" y2="530.8" stroke="#6e6e6e" stroke-width="1" />
<text x="387.5" y="536.3" font-size="16" text-anchor="middle" fill="#111" letter-spacing="0.8" stroke="#111" stroke-width="0.25">***</text>
<line x1="317.5" y1="539.3" x2="408.9" y2="539.3" stroke="#6e6e6e" stroke-width="1" />
<text x="365.4" y="544.8" font-size="16" text-anchor="middle" fill="#111" letter-spacing="0.8" stroke="#111" stroke-width="0.25">**</text>
<line x1="317.5" y1="548.2" x2="361.0" y2="548.2" stroke="#6e6e6e" stroke-width="1" />
<text x="340.9" y="553.7" font-size="16" text-anchor="middle" fill="#111" letter-spacing="0.8" stroke="#111" stroke-width="0.25">**</text>
<line x1="105.4" y1="749.8" x2="105.4" y2="875.0" stroke="#222" stroke-width="1" />
<line x1="104.9" y1="874.5" x2="274.7" y2="874.5" stroke="#222" stroke-width="1" />
<line x1="102.2" y1="780.4" x2="105.4" y2="780.4" stroke="#222" stroke-width="1" />
<text transform="translate(99.2,783.8) scale(0.9,1)" font-size="10" font-weight="bold" text-anchor="end" fill="#1e1e1e">1000</text>
<line x1="102.2" y1="824.3" x2="105.4" y2="824.3" stroke="#222" stroke-width="1" />
<text transform="translate(99.2,827.7) scale(0.9,1)" font-size="10" font-weight="bold" text-anchor="end" fill="#1e1e1e">500</text>
<line x1="102.2" y1="868.7" x2="105.4" y2="868.7" stroke="#222" stroke-width="1" />
<text transform="translate(99.2,872.1) scale(0.9,1)" font-size="10" font-weight="bold" text-anchor="end" fill="#1e1e1e">0</text>
<line x1="129.5" y1="874.5" x2="129.5" y2="877.5" stroke="#222" stroke-width="1" />
<line x1="169.2" y1="874.5" x2="169.2" y2="877.5" stroke="#222" stroke-width="1" />
<line x1="210.3" y1="874.5" x2="210.3" y2="877.5" stroke="#222" stroke-width="1" />
<line x1="250.3" y1="874.5" x2="250.3" y2="877.5" stroke="#222" stroke-width="1" />
<circle cx="125.0" cy="868.7" r="2.7" fill="#000" fill-opacity="0.3"/>
<circle cx="135.2" cy="868.7" r="2.7" fill="#000" fill-opacity="0.3"/>
<circle cx="127.0" cy="868.0" r="2.7" fill="#000" fill-opacity="0.3"/>
<circle cx="131.0" cy="869.0" r="2.7" fill="#000" fill-opacity="0.3"/>
<circle cx="168.3" cy="851.9" r="2.7" fill="#000" fill-opacity="0.3"/>
<circle cx="166.8" cy="861.1" r="2.7" fill="#000" fill-opacity="0.3"/>
<circle cx="168.9" cy="867.2" r="2.7" fill="#000" fill-opacity="0.3"/>
<circle cx="177.5" cy="857.4" r="2.7" fill="#000" fill-opacity="0.3"/>
<circle cx="177.5" cy="857.4" r="2.7" fill="#000" fill-opacity="0.3"/>
<circle cx="172.0" cy="858.0" r="2.7" fill="#000" fill-opacity="0.3"/>
<circle cx="202.6" cy="755.3" r="2.7" fill="#000" fill-opacity="0.3"/>
<circle cx="212.7" cy="771.9" r="2.7" fill="#000" fill-opacity="0.3"/>
<circle cx="214.9" cy="781.0" r="2.7" fill="#000" fill-opacity="0.3"/>
<circle cx="203.5" cy="801.0" r="2.7" fill="#000" fill-opacity="0.3"/>
<circle cx="208.8" cy="824.0" r="2.7" fill="#000" fill-opacity="0.3"/>
<circle cx="213.4" cy="823.4" r="2.7" fill="#000" fill-opacity="0.3"/>
<circle cx="215.5" cy="837.8" r="2.7" fill="#000" fill-opacity="0.3"/>
<circle cx="202.6" cy="847.9" r="2.7" fill="#000" fill-opacity="0.3"/>
<circle cx="245.5" cy="802.8" r="2.7" fill="#000" fill-opacity="0.3"/>
<circle cx="254.7" cy="811.7" r="2.7" fill="#000" fill-opacity="0.3"/>
<circle cx="244.6" cy="837.1" r="2.7" fill="#000" fill-opacity="0.3"/>
<circle cx="253.0" cy="831.0" r="2.7" fill="#000" fill-opacity="0.3"/>
<circle cx="255.7" cy="842.4" r="2.7" fill="#000" fill-opacity="0.3"/>
<circle cx="255.7" cy="842.4" r="2.7" fill="#000" fill-opacity="0.3"/>
<circle cx="253.8" cy="847.0" r="2.7" fill="#000" fill-opacity="0.3"/>
<circle cx="246.5" cy="855.5" r="2.7" fill="#000" fill-opacity="0.3"/>
<circle cx="129.5" cy="868.7" r="4.0" fill="#000"/>
<circle cx="169.2" cy="859.5" r="4.0" fill="#000"/>
<line x1="210.3" y1="772.8" x2="210.3" y2="838.7" stroke="#000" stroke-width="2.0" />
<circle cx="210.3" cy="805.6" r="4.0" fill="#000"/>
<line x1="250.3" y1="816.6" x2="250.3" y2="851.6" stroke="#000" stroke-width="2.0" />
<circle cx="250.3" cy="834.1" r="4.0" fill="#000"/>
<text x="184.3" y="710.0" font-size="12.4" font-weight="bold" text-anchor="middle" fill="#111" >CHI3L1</text>
<line x1="122.0" y1="727.4" x2="252.6" y2="727.4" stroke="#6e6e6e" stroke-width="1" />
<text x="188.3" y="732.9" font-size="16" text-anchor="middle" fill="#111" letter-spacing="0.8" stroke="#111" stroke-width="0.25">*</text>
<line x1="122.0" y1="736.3" x2="208.8" y2="736.3" stroke="#6e6e6e" stroke-width="1" />
<text x="168.7" y="741.8" font-size="16" text-anchor="middle" fill="#111" letter-spacing="0.8" stroke="#111" stroke-width="0.25">***</text>
<line x1="211.2" y1="736.3" x2="254.1" y2="736.3" stroke="#6e6e6e" stroke-width="1" />
<text x="231.5" y="741.8" font-size="16" text-anchor="middle" fill="#111" letter-spacing="0.8" stroke="#111" stroke-width="0.25">*</text>
<line x1="166.4" y1="746.4" x2="208.8" y2="746.4" stroke="#6e6e6e" stroke-width="1" />
<text x="188.3" y="751.9" font-size="16" text-anchor="middle" fill="#111" letter-spacing="0.8" stroke="#111" stroke-width="0.25">***</text>
<text x="130.8" y="889.2" font-size="10.2" font-weight="bold" text-anchor="middle" fill="#2a2a2a" >0Hrs</text>
<text x="130.8" y="901.9" font-size="10.2" font-weight="bold" text-anchor="middle" fill="#2a2a2a" >-</text>
<text x="168.7" y="889.2" font-size="10.2" font-weight="bold" text-anchor="middle" fill="#2a2a2a" >48Hrs</text>
<text x="168.7" y="901.9" font-size="10.2" font-weight="bold" text-anchor="middle" fill="#2a2a2a" >MM</text>
<text x="209.4" y="889.2" font-size="10.2" font-weight="bold" text-anchor="middle" fill="#2a2a2a" >48Hrs</text>
<text x="209.4" y="901.9" font-size="10.2" font-weight="bold" text-anchor="middle" fill="#2a2a2a" >OPC</text>
<text x="249.1" y="889.2" font-size="10.2" font-weight="bold" text-anchor="middle" fill="#2a2a2a" >48Hrs</text>
<text x="249.1" y="901.9" font-size="10.2" font-weight="bold" text-anchor="middle" fill="#2a2a2a" >SP-GF</text>
<line x1="304.6" y1="749.8" x2="304.6" y2="875.0" stroke="#222" stroke-width="1" />
<line x1="304.1" y1="874.5" x2="476.6" y2="874.5" stroke="#222" stroke-width="1" />
<line x1="301.4" y1="755.0" x2="304.6" y2="755.0" stroke="#222" stroke-width="1" />
<text transform="translate(298.4,758.4) scale(0.9,1)" font-size="10" font-weight="bold" text-anchor="end" fill="#1e1e1e">0.75</text>
<line x1="301.4" y1="785.0" x2="304.6" y2="785.0" stroke="#222" stroke-width="1" />
<text transform="translate(298.4,788.4) scale(0.9,1)" font-size="10" font-weight="bold" text-anchor="end" fill="#1e1e1e">0.50</text>
<line x1="301.4" y1="814.8" x2="304.6" y2="814.8" stroke="#222" stroke-width="1" />
<text transform="translate(298.4,818.2) scale(0.9,1)" font-size="10" font-weight="bold" text-anchor="end" fill="#1e1e1e">0.25</text>
<line x1="301.4" y1="844.8" x2="304.6" y2="844.8" stroke="#222" stroke-width="1" />
<text transform="translate(298.4,848.2) scale(0.9,1)" font-size="10" font-weight="bold" text-anchor="end" fill="#1e1e1e">0.00</text>
<line x1="329.2" y1="874.5" x2="329.2" y2="877.5" stroke="#222" stroke-width="1" />
<line x1="369.9" y1="874.5" x2="369.9" y2="877.5" stroke="#222" stroke-width="1" />
<line x1="411.0" y1="874.5" x2="411.0" y2="877.5" stroke="#222" stroke-width="1" />
<line x1="451.8" y1="874.5" x2="451.8" y2="877.5" stroke="#222" stroke-width="1" />
<circle cx="334.4" cy="782.3" r="2.7" fill="#000" fill-opacity="0.3"/>
<circle cx="331.3" cy="794.8" r="2.7" fill="#000" fill-opacity="0.3"/>
<circle cx="334.4" cy="815.7" r="2.7" fill="#000" fill-opacity="0.3"/>
<circle cx="325.2" cy="819.1" r="2.7" fill="#000" fill-opacity="0.3"/>
<circle cx="324.3" cy="829.5" r="2.7" fill="#000" fill-opacity="0.3"/>
<circle cx="324.6" cy="834.1" r="2.7" fill="#000" fill-opacity="0.3"/>
<circle cx="326.1" cy="845.4" r="2.7" fill="#000" fill-opacity="0.3"/>
<circle cx="367.2" cy="816.0" r="2.7" fill="#000" fill-opacity="0.3"/>
<circle cx="377.9" cy="827.6" r="2.7" fill="#000" fill-opacity="0.3"/>
<circle cx="367.5" cy="839.0" r="2.7" fill="#000" fill-opacity="0.3"/>
<circle cx="368.7" cy="854.9" r="2.7" fill="#000" fill-opacity="0.3"/>
<circle cx="377.9" cy="868.4" r="2.7" fill="#000" fill-opacity="0.3"/>
<circle cx="404.0" cy="789.3" r="2.7" fill="#000" fill-opacity="0.3"/>
<circle cx="411.9" cy="795.8" r="2.7" fill="#000" fill-opacity="0.3"/>
<circle cx="404.0" cy="824.0" r="2.7" fill="#000" fill-opacity="0.3"/>
<circle cx="404.0" cy="839.6" r="2.7" fill="#000" fill-opacity="0.3"/>
<circle cx="414.1" cy="839.6" r="2.7" fill="#000" fill-opacity="0.3"/>
<circle cx="413.5" cy="842.5" r="2.7" fill="#000" fill-opacity="0.3"/>
<circle cx="415.6" cy="838.7" r="2.7" fill="#000" fill-opacity="0.3"/>
<circle cx="453.9" cy="755.0" r="2.7" fill="#000" fill-opacity="0.3"/>
<circle cx="454.9" cy="786.0" r="2.7" fill="#000" fill-opacity="0.3"/>
<circle cx="457.0" cy="798.8" r="2.7" fill="#000" fill-opacity="0.3"/>
<circle cx="457.6" cy="801.9" r="2.7" fill="#000" fill-opacity="0.3"/>
<circle cx="447.2" cy="814.8" r="2.7" fill="#000" fill-opacity="0.3"/>
<circle cx="450.0" cy="818.8" r="2.7" fill="#000" fill-opacity="0.3"/>
<circle cx="446.3" cy="839.6" r="2.7" fill="#000" fill-opacity="0.3"/>
<circle cx="456.4" cy="839.6" r="2.7" fill="#000" fill-opacity="0.3"/>
<line x1="329.2" y1="814.2" x2="329.2" y2="833.2" stroke="#000" stroke-width="2.0" />
<circle cx="329.2" cy="823.7" r="4.0" fill="#000"/>
<line x1="369.9" y1="824.9" x2="369.9" y2="839.6" stroke="#000" stroke-width="2.0" />
<circle cx="369.9" cy="832.2" r="4.0" fill="#000"/>
<line x1="411.0" y1="795.8" x2="411.0" y2="827.3" stroke="#000" stroke-width="2.0" />
<circle cx="411.0" cy="811.4" r="4.0" fill="#000"/>
<line x1="451.8" y1="779.5" x2="451.8" y2="829.5" stroke="#000" stroke-width="2.0" />
<circle cx="451.8" cy="804.3" r="4.0" fill="#000"/>
<text x="396.2" y="709.7" font-size="12.4" font-weight="bold" text-anchor="middle" fill="#111" >CHI3L2</text>
<line x1="366.6" y1="738.4" x2="453.3" y2="738.4" stroke="#6e6e6e" stroke-width="1" />
<text x="412.0" y="743.9" font-size="16" text-anchor="middle" fill="#111" letter-spacing="0.8" stroke="#111" stroke-width="0.25">*</text>
<text x="330.2" y="889.2" font-size="10.2" font-weight="bold" text-anchor="middle" fill="#2a2a2a" >0Hrs</text>
<text x="330.2" y="901.9" font-size="10.2" font-weight="bold" text-anchor="middle" fill="#2a2a2a" >-</text>
<text x="368.1" y="889.2" font-size="10.2" font-weight="bold" text-anchor="middle" fill="#2a2a2a" >48Hrs</text>
<text x="368.1" y="901.9" font-size="10.2" font-weight="bold" text-anchor="middle" fill="#2a2a2a" >MM</text>
<text x="409.0" y="889.2" font-size="10.2" font-weight="bold" text-anchor="middle" fill="#2a2a2a" >48Hrs</text>
<text x="409.0" y="901.9" font-size="10.2" font-weight="bold" text-anchor="middle" fill="#2a2a2a" >OPC</text>
<text x="449.0" y="889.2" font-size="10.2" font-weight="bold" text-anchor="middle" fill="#2a2a2a" >48Hrs</text>
<text x="449.0" y="901.9" font-size="10.2" font-weight="bold" text-anchor="middle" fill="#2a2a2a" >SP-GF</text>
<line x1="497.8" y1="749.8" x2="497.8" y2="875.0" stroke="#222" stroke-width="1" />
<line x1="497.3" y1="874.5" x2="677.3" y2="874.5" stroke="#222" stroke-width="1" />
<line x1="494.6" y1="760.5" x2="497.8" y2="760.5" stroke="#222" stroke-width="1" />
<text transform="translate(491.6,763.9) scale(0.9,1)" font-size="10" font-weight="bold" text-anchor="end" fill="#1e1e1e">20</text>
<line x1="494.6" y1="789.0" x2="497.8" y2="789.0" stroke="#222" stroke-width="1" />
<text transform="translate(491.6,792.4) scale(0.9,1)" font-size="10" font-weight="bold" text-anchor="end" fill="#1e1e1e">15</text>
<line x1="494.6" y1="817.2" x2="497.8" y2="817.2" stroke="#222" stroke-width="1" />
<text transform="translate(491.6,820.6) scale(0.9,1)" font-size="10" font-weight="bold" text-anchor="end" fill="#1e1e1e">10</text>
<line x1="494.6" y1="845.6" x2="497.8" y2="845.6" stroke="#222" stroke-width="1" />
<text transform="translate(491.6,849.0) scale(0.9,1)" font-size="10" font-weight="bold" text-anchor="end" fill="#1e1e1e">5</text>
<line x1="494.6" y1="874.2" x2="497.8" y2="874.2" stroke="#222" stroke-width="1" />
<text transform="translate(491.6,877.6) scale(0.9,1)" font-size="10" font-weight="bold" text-anchor="end" fill="#1e1e1e">0</text>
<line x1="523.1" y1="874.5" x2="523.1" y2="877.5" stroke="#222" stroke-width="1" />
<line x1="566.0" y1="874.5" x2="566.0" y2="877.5" stroke="#222" stroke-width="1" />
<line x1="609.0" y1="874.5" x2="609.0" y2="877.5" stroke="#222" stroke-width="1" />
<line x1="651.9" y1="874.5" x2="651.9" y2="877.5" stroke="#222" stroke-width="1" />
<circle cx="518.5" cy="855.8" r="2.7" fill="#000" fill-opacity="0.3"/>
<circle cx="520.0" cy="857.0" r="2.7" fill="#000" fill-opacity="0.3"/>
<circle cx="518.8" cy="862.3" r="2.7" fill="#000" fill-opacity="0.3"/>
<circle cx="529.3" cy="860.8" r="2.7" fill="#000" fill-opacity="0.3"/>
<circle cx="528.6" cy="866.3" r="2.7" fill="#000" fill-opacity="0.3"/>
<circle cx="521.0" cy="868.7" r="2.7" fill="#000" fill-opacity="0.3"/>
<circle cx="527.0" cy="864.0" r="2.7" fill="#000" fill-opacity="0.3"/>
<circle cx="564.5" cy="755.3" r="2.7" fill="#000" fill-opacity="0.3"/>
<circle cx="567.3" cy="770.6" r="2.7" fill="#000" fill-opacity="0.3"/>
<circle cx="574.0" cy="792.1" r="2.7" fill="#000" fill-opacity="0.3"/>
<circle cx="563.0" cy="813.5" r="2.7" fill="#000" fill-opacity="0.3"/>
<circle cx="567.0" cy="837.5" r="2.7" fill="#000" fill-opacity="0.3"/>
<circle cx="574.0" cy="841.1" r="2.7" fill="#000" fill-opacity="0.3"/>
<circle cx="564.5" cy="859.2" r="2.7" fill="#000" fill-opacity="0.3"/>
<circle cx="606.8" cy="827.0" r="2.7" fill="#000" fill-opacity="0.3"/>
<circle cx="613.6" cy="824.0" r="2.7" fill="#000" fill-opacity="0.3"/>
<circle cx="601.3" cy="844.8" r="2.7" fill="#000" fill-opacity="0.3"/>
<circle cx="601.3" cy="844.8" r="2.7" fill="#000" fill-opacity="0.3"/>
<circle cx="612.0" cy="842.0" r="2.7" fill="#000" fill-opacity="0.3"/>
<circle cx="614.5" cy="850.0" r="2.7" fill="#000" fill-opacity="0.3"/>
<circle cx="657.7" cy="812.6" r="2.7" fill="#000" fill-opacity="0.3"/>
<circle cx="654.9" cy="822.4" r="2.7" fill="#000" fill-opacity="0.3"/>
<circle cx="653.7" cy="830.4" r="2.7" fill="#000" fill-opacity="0.3"/>
<circle cx="645.8" cy="835.6" r="2.7" fill="#000" fill-opacity="0.3"/>
<circle cx="658.0" cy="837.8" r="2.7" fill="#000" fill-opacity="0.3"/>
<circle cx="647.3" cy="844.2" r="2.7" fill="#000" fill-opacity="0.3"/>
<circle cx="646.7" cy="858.6" r="2.7" fill="#000" fill-opacity="0.3"/>
<line x1="523.1" y1="858.0" x2="523.1" y2="867.2" stroke="#000" stroke-width="2.0" />
<circle cx="523.1" cy="862.9" r="4.0" fill="#000"/>
<line x1="566.0" y1="774.3" x2="566.0" y2="845.7" stroke="#000" stroke-width="2.0" />
<circle cx="566.0" cy="809.6" r="4.0" fill="#000"/>
<line x1="609.0" y1="831.6" x2="609.0" y2="848.5" stroke="#000" stroke-width="2.0" />
<circle cx="609.0" cy="839.6" r="4.0" fill="#000"/>
<line x1="651.9" y1="821.8" x2="651.9" y2="848.5" stroke="#000" stroke-width="2.0" />
<circle cx="651.9" cy="834.1" r="4.0" fill="#000"/>
<text x="580.2" y="709.1" font-size="12.4" font-weight="bold" text-anchor="middle" fill="#111" >CHID1</text>
<line x1="521.0" y1="726.2" x2="651.9" y2="726.2" stroke="#6e6e6e" stroke-width="1" />
<text x="587.9" y="731.7" font-size="16" text-anchor="middle" fill="#111" letter-spacing="0.8" stroke="#111" stroke-width="0.25">*</text>
<line x1="521.0" y1="736.6" x2="564.5" y2="736.6" stroke="#6e6e6e" stroke-width="1" />
<text x="545.3" y="742.1" font-size="16" text-anchor="middle" fill="#111" letter-spacing="0.8" stroke="#111" stroke-width="0.25">***</text>
<line x1="567.6" y1="736.6" x2="610.8" y2="736.6" stroke="#6e6e6e" stroke-width="1" />
<text x="585.1" y="742.1" font-size="16" text-anchor="middle" fill="#111" letter-spacing="0.8" stroke="#111" stroke-width="0.25">*</text>
<text x="526.3" y="889.2" font-size="10.2" font-weight="bold" text-anchor="middle" fill="#2a2a2a" >0Hrs</text>
<text x="526.3" y="901.9" font-size="10.2" font-weight="bold" text-anchor="middle" fill="#2a2a2a" >-</text>
<text x="564.2" y="889.2" font-size="10.2" font-weight="bold" text-anchor="middle" fill="#2a2a2a" >48Hrs</text>
<text x="564.2" y="901.9" font-size="10.2" font-weight="bold" text-anchor="middle" fill="#2a2a2a" >MM</text>
<text x="605.0" y="889.2" font-size="10.2" font-weight="bold" text-anchor="middle" fill="#2a2a2a" >48Hrs</text>
<text x="605.0" y="901.9" font-size="10.2" font-weight="bold" text-anchor="middle" fill="#2a2a2a" >OPC</text>
<text x="645.0" y="889.2" font-size="10.2" font-weight="bold" text-anchor="middle" fill="#2a2a2a" >48Hrs</text>
<text x="645.0" y="901.9" font-size="10.2" font-weight="bold" text-anchor="middle" fill="#2a2a2a" >SP-GF</text>
<line x1="68.5" y1="309.0" x2="68.5" y2="513.3" stroke="#1a1a1a" stroke-width="1.4" />
<line x1="68.4" y1="690.3" x2="68.4" y2="926.1" stroke="#1a1a1a" stroke-width="1.6" />
<line x1="67.6" y1="925.4" x2="252.0" y2="925.4" stroke="#1a1a1a" stroke-width="1.5" />
<line x1="506.0" y1="924.9" x2="676.8" y2="924.9" stroke="#333" stroke-width="1.5" />
<text x="259.9" y="929.5" font-size="15" font-weight="bold" text-anchor="start" fill="#111" >Time and Medium of Conditioning</text>
<text transform="translate(73.2,677.9) rotate(-90)" font-size="15.3" font-weight="bold" fill="#111">Arbitrary Units (2<tspan font-size="11.2" dy="-7.6">-ΔCT</tspan><tspan dy="7.6">)</tspan></text>
</svg>
</body></html>
